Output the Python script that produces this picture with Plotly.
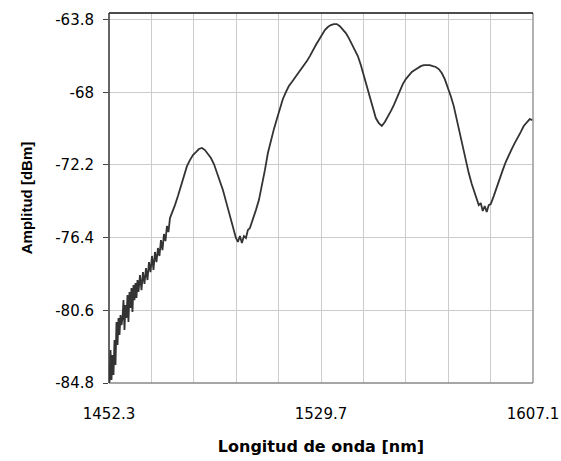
import plotly.graph_objects as go

# Wavelength [nm] and amplitude [dBm]
wavelength_nm = [
    1452.48, 1452.85, 1453.21, 1453.58, 1453.94, 1454.31, 1454.67, 1455.04, 1455.41, 1455.77,
    1456.13, 1456.50, 1456.86, 1457.23, 1457.59, 1457.95, 1458.32, 1458.68, 1459.05, 1459.41,
    1459.78, 1460.14, 1460.51, 1460.87, 1461.24, 1461.60, 1461.97, 1462.33, 1462.70, 1463.06,
    1463.61, 1464.16, 1464.70, 1465.25, 1465.80, 1466.35, 1466.89, 1467.44, 1467.99, 1468.54,
    1469.08, 1469.63, 1470.18, 1470.72, 1471.27, 1471.82, 1472.37, 1472.91, 1473.46, 1474.01,
    1474.56,
    1475.28, 1476.38, 1477.47, 1478.57, 1479.66, 1480.76, 1481.85, 1482.95, 1484.04, 1485.14,
    1486.23, 1487.33, 1488.42, 1489.51, 1490.61, 1491.70, 1492.80, 1493.89, 1494.99, 1496.08,
    1497.18, 1497.91, 1498.64, 1499.36, 1500.09, 1500.82, 1501.55, 1502.28, 1503.01, 1503.74,
    1504.84, 1505.93, 1507.03, 1508.12, 1509.22, 1510.31, 1511.40, 1512.50, 1513.59, 1514.69,
    1515.78, 1516.88, 1517.97, 1519.07, 1520.16, 1521.25, 1522.35, 1523.44, 1524.54, 1525.63,
    1526.73, 1527.82, 1528.92, 1530.01, 1531.11, 1532.20, 1533.29, 1534.39, 1535.48, 1536.58,
    1537.67, 1538.77, 1539.86, 1540.96, 1542.05, 1543.15, 1544.24, 1545.33, 1546.43, 1547.52,
    1548.62, 1549.71, 1550.81, 1551.90, 1553.00, 1554.09, 1555.19, 1556.28, 1557.37, 1558.47,
    1559.56, 1560.66, 1561.75, 1562.85, 1563.94, 1565.04, 1566.13, 1567.22, 1568.32, 1569.41,
    1570.51, 1571.60, 1572.70, 1573.79, 1574.89, 1575.98, 1577.07, 1578.17, 1579.26, 1580.36,
    1581.45, 1582.55, 1583.64, 1584.74, 1585.83, 1586.56, 1587.29, 1588.02, 1588.75, 1589.48,
    1590.21, 1590.94, 1591.67, 1592.76, 1593.86, 1594.95, 1596.05, 1597.14, 1598.23, 1599.33,
    1600.42, 1601.52, 1602.61, 1603.71, 1604.80, 1605.90, 1606.99,
]

amplitude_dbm = [
    -84.80, -82.89, -84.63, -83.18, -84.34, -82.32, -83.76, -81.28, -82.60, -81.04,
    -82.03, -80.87, -81.45, -81.04, -80.01, -81.74, -80.29, -81.04, -79.72, -81.28,
    -79.54, -80.47, -79.31, -80.70, -79.14, -80.01, -79.02, -79.89, -78.85, -79.54,
    -78.56, -79.43, -78.39, -79.08, -78.16, -78.85, -77.81, -78.39, -77.46, -78.27,
    -77.23, -77.81, -77.00, -77.46, -76.54, -77.12, -76.19, -76.60, -75.73, -76.08,
    -75.27,
    -74.92, -74.52, -74.00, -73.42, -72.78, -72.27, -71.92, -71.63, -71.46, -71.28,
    -71.22, -71.34, -71.57, -71.80, -72.15, -72.61, -73.07, -73.65, -74.29, -74.92,
    -75.67, -76.08, -76.42, -76.65, -76.31, -76.71, -76.31, -76.42, -75.96, -75.85,
    -75.38, -74.81, -74.23, -73.42, -72.50, -71.51, -70.76, -70.13, -69.55, -68.91,
    -68.39, -67.99, -67.64, -67.41, -67.18, -66.95, -66.72, -66.49, -66.20, -65.91,
    -65.56, -65.27, -64.98, -64.70, -64.41, -64.23, -64.12, -64.06, -64.06, -64.18,
    -64.35, -64.58, -64.87, -65.22, -65.50, -65.91, -66.43, -67.01, -67.64, -68.28,
    -68.91, -69.49, -69.78, -69.95, -69.72, -69.43, -69.09, -68.74, -68.34, -67.93,
    -67.53, -67.24, -67.01, -66.83, -66.72, -66.60, -66.49, -66.43, -66.43, -66.43,
    -66.49, -66.54, -66.66, -66.89, -67.24, -67.70, -68.22, -68.80, -69.61, -70.36,
    -71.05, -71.92, -72.67, -73.30, -73.82, -74.11, -74.52, -74.40, -74.86, -74.57,
    -74.92, -74.52, -74.46, -74.00, -73.48, -72.90, -72.50, -72.03, -71.63, -71.28,
    -70.94, -70.65, -70.30, -69.95, -69.72, -69.55, -69.61,
]

x_tick_values = [1452.3, 1467.78, 1483.26, 1498.74, 1514.22, 1529.7,
                 1545.18, 1560.66, 1576.14, 1591.62, 1607.1]
x_tick_labels = ["1452.3", "", "", "", "", "1529.7", "", "", "", "", "1607.1"]
y_tick_values = [-84.8, -80.6, -76.4, -72.2, -68, -63.8]
y_tick_labels = ["-84.8", "-80.6", "-76.4", "-72.2", "-68", "-63.8"]

x_range = [1452.3, 1607.1]
y_range = [-84.8, -63.42]

fig = go.Figure()
fig.add_trace(go.Scatter(
    x=wavelength_nm, y=amplitude_dbm, mode="lines",
    line=dict(color="#333333", width=1.8),
    hoverinfo="x+y", showlegend=False,
))

tick_font = dict(family="DejaVu Sans, sans-serif", size=15, color="black")

fig.update_layout(
    width=561, height=461,
    margin=dict(l=109, r=28, t=13, b=78, autoexpand=False),
    paper_bgcolor="white", plot_bgcolor="white",
    font=dict(family="DejaVu Sans, sans-serif", size=15, color="black"),
    xaxis=dict(
        range=x_range, tickmode="array", tickvals=x_tick_values, ticktext=x_tick_labels,
        showgrid=True, gridcolor="#cccccc", gridwidth=1, automargin=False,
        showline=False, zeroline=False, ticks="", ticklabelstandoff=20,
        tickfont=tick_font,
        title=dict(text="<b>Longitud de onda [nm]</b>",
                   font=dict(family="DejaVu Sans, sans-serif", size=16, color="black"),
                   standoff=18),
    ),
    yaxis=dict(
        range=y_range, tickmode="array", tickvals=y_tick_values, ticktext=y_tick_labels,
        showgrid=True, gridcolor="#cccccc", gridwidth=1, automargin=False,
        showline=False, zeroline=False, ticks="outside", ticklen=5, tickcolor="#444444",
        ticklabelstandoff=6,
        tickfont=tick_font,
        title=dict(text="<b>Amplitud [dBm]</b>",
                   font=dict(family="Liberation Sans, Arial, sans-serif", size=15, color="black"),
                   standoff=18),
    ),
    shapes=[
        dict(type="line", xref="paper", yref="paper", x0=1, x1=1, y0=0, y1=1,
             line=dict(color="#999999", width=1.5)),
        dict(type="line", xref="paper", yref="paper", x0=0, x1=1, y0=0, y1=0,
             line=dict(color="#888888", width=1.5)),
        dict(type="line", xref="paper", yref="paper", x0=0, x1=1, y0=1, y1=1,
             line=dict(color="#111111", width=1.5)),
        dict(type="line", xref="paper", yref="paper", x0=0, x1=0, y0=0, y1=1,
             line=dict(color="#333333", width=1.5)),
    ],
)

fig.write_html(
    "out.html",
    config={"displayModeBar": False},
    post_script="document.body.style.margin='0';document.body.style.overflow='hidden';",
)
